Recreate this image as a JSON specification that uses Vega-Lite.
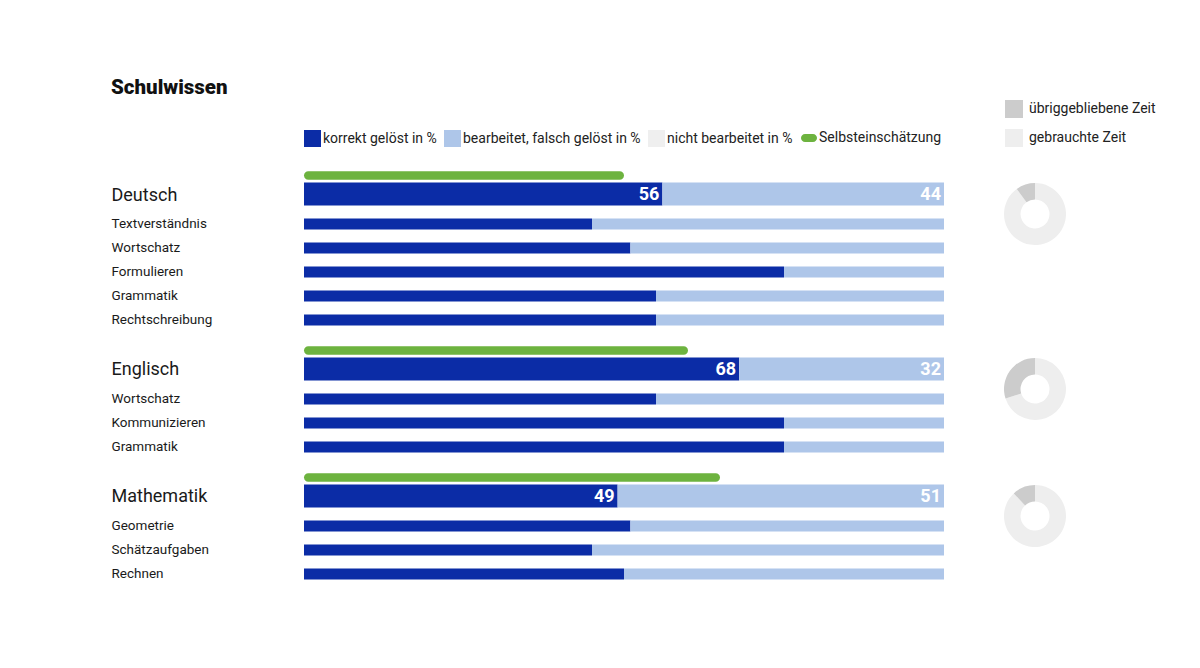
{
  "$schema": "https://vega.github.io/schema/vega-lite/v6.json",
  "background": "white",
  "autosize": {"type": "pad"},
  "padding": {"left": 111, "top": 77, "right": 5, "bottom": 5},
  "title": {"text": "Schulwissen", "anchor": "start", "font": "Roboto", "fontSize": 20.5, "fontWeight": 900, "color": "#111111", "offset": 2},
  "config": {
    "view": {"stroke": null},
    "font": "Roboto",
    "legend": {"padding": 0, "titlePadding": 0}
  },
  "datasets": {
    "balken": [
      {"fach": "Deutsch", "zeile": "Deutsch", "ebene": "main", "kat": "korrekt gelöst in %", "wert": 56},
      {"fach": "Deutsch", "zeile": "Deutsch", "ebene": "main", "kat": "bearbeitet, falsch gelöst in %", "wert": 44},
      {"fach": "Deutsch", "zeile": "Deutsch", "ebene": "selbst", "kat": "Selbsteinschätzung", "wert": 50},
      {"fach": "Deutsch", "zeile": "Textverständnis", "ebene": "sub", "kat": "korrekt gelöst in %", "wert": 45},
      {"fach": "Deutsch", "zeile": "Textverständnis", "ebene": "sub", "kat": "bearbeitet, falsch gelöst in %", "wert": 55},
      {"fach": "Deutsch", "zeile": "Wortschatz", "ebene": "sub", "kat": "korrekt gelöst in %", "wert": 51},
      {"fach": "Deutsch", "zeile": "Wortschatz", "ebene": "sub", "kat": "bearbeitet, falsch gelöst in %", "wert": 49},
      {"fach": "Deutsch", "zeile": "Formulieren", "ebene": "sub", "kat": "korrekt gelöst in %", "wert": 75},
      {"fach": "Deutsch", "zeile": "Formulieren", "ebene": "sub", "kat": "bearbeitet, falsch gelöst in %", "wert": 25},
      {"fach": "Deutsch", "zeile": "Grammatik", "ebene": "sub", "kat": "korrekt gelöst in %", "wert": 55},
      {"fach": "Deutsch", "zeile": "Grammatik", "ebene": "sub", "kat": "bearbeitet, falsch gelöst in %", "wert": 45},
      {"fach": "Deutsch", "zeile": "Rechtschreibung", "ebene": "sub", "kat": "korrekt gelöst in %", "wert": 55},
      {"fach": "Deutsch", "zeile": "Rechtschreibung", "ebene": "sub", "kat": "bearbeitet, falsch gelöst in %", "wert": 45},
      {"fach": "Englisch", "zeile": "Englisch", "ebene": "main", "kat": "korrekt gelöst in %", "wert": 68},
      {"fach": "Englisch", "zeile": "Englisch", "ebene": "main", "kat": "bearbeitet, falsch gelöst in %", "wert": 32},
      {"fach": "Englisch", "zeile": "Englisch", "ebene": "selbst", "kat": "Selbsteinschätzung", "wert": 60},
      {"fach": "Englisch", "zeile": "Wortschatz", "ebene": "sub", "kat": "korrekt gelöst in %", "wert": 55},
      {"fach": "Englisch", "zeile": "Wortschatz", "ebene": "sub", "kat": "bearbeitet, falsch gelöst in %", "wert": 45},
      {"fach": "Englisch", "zeile": "Kommunizieren", "ebene": "sub", "kat": "korrekt gelöst in %", "wert": 75},
      {"fach": "Englisch", "zeile": "Kommunizieren", "ebene": "sub", "kat": "bearbeitet, falsch gelöst in %", "wert": 25},
      {"fach": "Englisch", "zeile": "Grammatik", "ebene": "sub", "kat": "korrekt gelöst in %", "wert": 75},
      {"fach": "Englisch", "zeile": "Grammatik", "ebene": "sub", "kat": "bearbeitet, falsch gelöst in %", "wert": 25},
      {"fach": "Mathematik", "zeile": "Mathematik", "ebene": "main", "kat": "korrekt gelöst in %", "wert": 49},
      {"fach": "Mathematik", "zeile": "Mathematik", "ebene": "main", "kat": "bearbeitet, falsch gelöst in %", "wert": 51},
      {"fach": "Mathematik", "zeile": "Mathematik", "ebene": "selbst", "kat": "Selbsteinschätzung", "wert": 65},
      {"fach": "Mathematik", "zeile": "Geometrie", "ebene": "sub", "kat": "korrekt gelöst in %", "wert": 51},
      {"fach": "Mathematik", "zeile": "Geometrie", "ebene": "sub", "kat": "bearbeitet, falsch gelöst in %", "wert": 49},
      {"fach": "Mathematik", "zeile": "Schätzaufgaben", "ebene": "sub", "kat": "korrekt gelöst in %", "wert": 45},
      {"fach": "Mathematik", "zeile": "Schätzaufgaben", "ebene": "sub", "kat": "bearbeitet, falsch gelöst in %", "wert": 55},
      {"fach": "Mathematik", "zeile": "Rechnen", "ebene": "sub", "kat": "korrekt gelöst in %", "wert": 50},
      {"fach": "Mathematik", "zeile": "Rechnen", "ebene": "sub", "kat": "bearbeitet, falsch gelöst in %", "wert": 50}
    ],
    "zeit": [
      {"fach": "Deutsch", "teil": "gebrauchte Zeit", "wert": 90},
      {"fach": "Deutsch", "teil": "übriggebliebene Zeit", "wert": 10},
      {"fach": "Englisch", "teil": "gebrauchte Zeit", "wert": 70},
      {"fach": "Englisch", "teil": "übriggebliebene Zeit", "wert": 30},
      {"fach": "Mathematik", "teil": "gebrauchte Zeit", "wert": 88},
      {"fach": "Mathematik", "teil": "übriggebliebene Zeit", "wert": 12}
    ]
  },
  "bounds": "flush",
  "columns": 2,
  "spacing": {"row": 31, "column": 60},
  "resolve": {
    "scale": {"color": "independent", "fill": "independent", "x": "independent", "y": "independent", "theta": "independent"},
    "legend": {"color": "independent", "fill": "independent"}
  },
  "concat": [
    {
      "width": 640,
      "height": 144,
      "data": {"name": "balken"},
      "transform": [{"filter": "datum.fach === 'Deutsch'"}],
      "encoding": {
        "y": {
          "field": "zeile", "type": "nominal", "title": null,
          "scale": {"domain": ["Deutsch", "Textverständnis", "Wortschatz", "Formulieren", "Grammatik", "Rechtschreibung"], "paddingInner": 0, "paddingOuter": 0},
          "axis": {
            "domain": false, "ticks": false, "tickSize": 0, "grid": false,
            "labelAlign": "left", "labelBaseline": "middle", "labelPadding": 193, "labelLimit": 0,
            "labelColor": "#1a1a1a", "labelFont": "Roboto",
            "labelFontSize": {"condition": {"test": "datum.value === 'Deutsch'", "value": 18}, "value": 13.5},
            "labelOffset": {"condition": {"test": "datum.value === 'Deutsch'", "value": -4}, "value": 0}
          }
        }
      },
      "layer": [
        {
          "transform": [{"filter": "datum.ebene === 'sub'"}],
          "mark": {"type": "bar", "height": 11},
          "encoding": {
            "x": {"field": "wert", "type": "quantitative", "stack": "zero", "scale": {"domain": [0, 100], "nice": false}, "axis": null},
            "color": {
              "field": "kat", "type": "nominal",
              "scale": {"domain": ["korrekt gelöst in %", "bearbeitet, falsch gelöst in %", "nicht bearbeitet in %"], "range": ["#0b2ca6", "#aec6e9", "#efefef"]},
              "legend": {"orient": "none", "legendX": 0, "legendY": -58, "direction": "horizontal", "title": null, "symbolType": "square", "symbolSize": 289, "symbolStrokeWidth": 0, "labelFontSize": 14, "labelOffset": 2, "columnPadding": 7, "labelColor": "#222222", "labelLimit": 0, "labelFont": "Roboto"}
            },
            "order": {"field": "kat", "sort": "descending"}
          }
        },
        {
          "transform": [{"filter": "datum.ebene === 'main'"}],
          "mark": {"type": "bar", "height": 23, "yOffset": -6},
          "encoding": {
            "x": {"field": "wert", "type": "quantitative", "stack": "zero"},
            "color": {"field": "kat", "type": "nominal"},
            "order": {"field": "kat", "sort": "descending"}
          }
        },
        {
          "transform": [
            {"filter": "datum.ebene === 'main'"},
            {"stack": "wert", "groupby": ["zeile"], "sort": [{"field": "kat", "order": "descending"}], "as": ["x0", "x1"]}
          ],
          "mark": {"type": "text", "align": "right", "baseline": "middle", "dx": -3, "yOffset": -5, "font": "Roboto", "fontSize": 18, "fontWeight": "bold", "color": "white"},
          "encoding": {
            "x": {"field": "x1", "type": "quantitative"},
            "text": {"field": "wert", "type": "quantitative"}
          }
        },
        {
          "transform": [{"filter": "datum.ebene === 'selbst'"}],
          "mark": {"type": "bar", "height": 8.5, "cornerRadius": 4.25, "yOffset": -24.5},
          "encoding": {
            "x": {"field": "wert", "type": "quantitative", "stack": null},
            "fill": {
              "field": "kat", "type": "nominal",
              "scale": {"range": ["#6db33f"]},
              "legend": {"orient": "none", "legendX": 497, "legendY": -58, "title": null, "symbolType": "M-0.5,-0.5L0.5,-0.5A0.5,0.5,0,0,1,0.5,0.5L-0.5,0.5A0.5,0.5,0,0,1,-0.5,-0.5Z", "symbolSize": 256, "symbolStrokeWidth": 0, "labelFontSize": 14, "labelOffset": 2, "labelColor": "#222222", "labelLimit": 0, "labelFont": "Roboto"}
            }
          }
        }
      ]
    },
    {
      "width": 62,
      "height": 52,
      "data": {"name": "zeit"},
      "transform": [{"filter": "datum.fach === 'Deutsch'"}],
      "mark": {"type": "arc", "outerRadius": 31, "innerRadius": 14.5},
      "encoding": {
        "theta": {"field": "wert", "type": "quantitative", "stack": true},
        "order": {"field": "teil", "sort": "ascending"},
        "color": {
          "field": "teil", "type": "nominal",
          "scale": {"domain": ["übriggebliebene Zeit", "gebrauchte Zeit"], "range": ["#cccccc", "#eeeeee"]},
          "legend": {"orient": "none", "legendX": 1, "legendY": -88, "direction": "vertical", "title": null, "symbolType": "square", "symbolSize": 324, "symbolStrokeWidth": 0, "rowPadding": 11, "labelFontSize": 14, "labelOffset": 6, "labelColor": "#222222", "labelLimit": 0, "labelFont": "Roboto"}
        }
      }
    },
    {
      "width": 640,
      "height": 96,
      "data": {"name": "balken"},
      "transform": [{"filter": "datum.fach === 'Englisch'"}],
      "encoding": {
        "y": {
          "field": "zeile", "type": "nominal", "title": null,
          "scale": {"domain": ["Englisch", "Wortschatz", "Kommunizieren", "Grammatik"], "paddingInner": 0, "paddingOuter": 0},
          "axis": {
            "domain": false, "ticks": false, "tickSize": 0, "grid": false,
            "labelAlign": "left", "labelBaseline": "middle", "labelPadding": 193, "labelLimit": 0,
            "labelColor": "#1a1a1a", "labelFont": "Roboto",
            "labelFontSize": {"condition": {"test": "datum.value === 'Englisch'", "value": 18}, "value": 13.5},
            "labelOffset": {"condition": {"test": "datum.value === 'Englisch'", "value": -5}, "value": 0}
          }
        }
      },
      "layer": [
        {
          "transform": [{"filter": "datum.ebene === 'sub'"}],
          "mark": {"type": "bar", "height": 11},
          "encoding": {
            "x": {"field": "wert", "type": "quantitative", "stack": "zero", "scale": {"domain": [0, 100], "nice": false}, "axis": null},
            "color": {
              "field": "kat", "type": "nominal",
              "scale": {"domain": ["korrekt gelöst in %", "bearbeitet, falsch gelöst in %", "nicht bearbeitet in %"], "range": ["#0b2ca6", "#aec6e9", "#efefef"]},
              "legend": null
            },
            "order": {"field": "kat", "sort": "descending"}
          }
        },
        {
          "transform": [{"filter": "datum.ebene === 'main'"}],
          "mark": {"type": "bar", "height": 23, "yOffset": -6},
          "encoding": {
            "x": {"field": "wert", "type": "quantitative", "stack": "zero"},
            "color": {"field": "kat", "type": "nominal"},
            "order": {"field": "kat", "sort": "descending"}
          }
        },
        {
          "transform": [
            {"filter": "datum.ebene === 'main'"},
            {"stack": "wert", "groupby": ["zeile"], "sort": [{"field": "kat", "order": "descending"}], "as": ["x0", "x1"]}
          ],
          "mark": {"type": "text", "align": "right", "baseline": "middle", "dx": -3, "yOffset": -5, "font": "Roboto", "fontSize": 18, "fontWeight": "bold", "color": "white"},
          "encoding": {
            "x": {"field": "x1", "type": "quantitative"},
            "text": {"field": "wert", "type": "quantitative"}
          }
        },
        {
          "transform": [{"filter": "datum.ebene === 'selbst'"}],
          "mark": {"type": "bar", "height": 8.5, "cornerRadius": 4.25, "yOffset": -24.5},
          "encoding": {
            "x": {"field": "wert", "type": "quantitative", "stack": null},
            "fill": {"field": "kat", "type": "nominal", "scale": {"range": ["#6db33f"]}, "legend": null}
          }
        }
      ]
    },
    {
      "width": 62,
      "height": 52,
      "data": {"name": "zeit"},
      "transform": [{"filter": "datum.fach === 'Englisch'"}],
      "mark": {"type": "arc", "outerRadius": 31, "innerRadius": 14.5},
      "encoding": {
        "theta": {"field": "wert", "type": "quantitative", "stack": true},
        "order": {"field": "teil", "sort": "ascending"},
        "color": {
          "field": "teil", "type": "nominal",
          "scale": {"domain": ["übriggebliebene Zeit", "gebrauchte Zeit"], "range": ["#cccccc", "#eeeeee"]},
          "legend": null
        }
      }
    },
    {
      "width": 640,
      "height": 96,
      "data": {"name": "balken"},
      "transform": [{"filter": "datum.fach === 'Mathematik'"}],
      "encoding": {
        "y": {
          "field": "zeile", "type": "nominal", "title": null,
          "scale": {"domain": ["Mathematik", "Geometrie", "Schätzaufgaben", "Rechnen"], "paddingInner": 0, "paddingOuter": 0},
          "axis": {
            "domain": false, "ticks": false, "tickSize": 0, "grid": false,
            "labelAlign": "left", "labelBaseline": "middle", "labelPadding": 193, "labelLimit": 0,
            "labelColor": "#1a1a1a", "labelFont": "Roboto",
            "labelFontSize": {"condition": {"test": "datum.value === 'Mathematik'", "value": 18}, "value": 13.5},
            "labelOffset": {"condition": {"test": "datum.value === 'Mathematik'", "value": -5}, "value": 0}
          }
        }
      },
      "layer": [
        {
          "transform": [{"filter": "datum.ebene === 'sub'"}],
          "mark": {"type": "bar", "height": 11},
          "encoding": {
            "x": {"field": "wert", "type": "quantitative", "stack": "zero", "scale": {"domain": [0, 100], "nice": false}, "axis": null},
            "color": {
              "field": "kat", "type": "nominal",
              "scale": {"domain": ["korrekt gelöst in %", "bearbeitet, falsch gelöst in %", "nicht bearbeitet in %"], "range": ["#0b2ca6", "#aec6e9", "#efefef"]},
              "legend": null
            },
            "order": {"field": "kat", "sort": "descending"}
          }
        },
        {
          "transform": [{"filter": "datum.ebene === 'main'"}],
          "mark": {"type": "bar", "height": 23, "yOffset": -6},
          "encoding": {
            "x": {"field": "wert", "type": "quantitative", "stack": "zero"},
            "color": {"field": "kat", "type": "nominal"},
            "order": {"field": "kat", "sort": "descending"}
          }
        },
        {
          "transform": [
            {"filter": "datum.ebene === 'main'"},
            {"stack": "wert", "groupby": ["zeile"], "sort": [{"field": "kat", "order": "descending"}], "as": ["x0", "x1"]}
          ],
          "mark": {"type": "text", "align": "right", "baseline": "middle", "dx": -3, "yOffset": -5, "font": "Roboto", "fontSize": 18, "fontWeight": "bold", "color": "white"},
          "encoding": {
            "x": {"field": "x1", "type": "quantitative"},
            "text": {"field": "wert", "type": "quantitative"}
          }
        },
        {
          "transform": [{"filter": "datum.ebene === 'selbst'"}],
          "mark": {"type": "bar", "height": 8.5, "cornerRadius": 4.25, "yOffset": -24.5},
          "encoding": {
            "x": {"field": "wert", "type": "quantitative", "stack": null},
            "fill": {"field": "kat", "type": "nominal", "scale": {"range": ["#6db33f"]}, "legend": null}
          }
        }
      ]
    },
    {
      "width": 62,
      "height": 52,
      "data": {"name": "zeit"},
      "transform": [{"filter": "datum.fach === 'Mathematik'"}],
      "mark": {"type": "arc", "outerRadius": 31, "innerRadius": 14.5},
      "encoding": {
        "theta": {"field": "wert", "type": "quantitative", "stack": true},
        "order": {"field": "teil", "sort": "ascending"},
        "color": {
          "field": "teil", "type": "nominal",
          "scale": {"domain": ["übriggebliebene Zeit", "gebrauchte Zeit"], "range": ["#cccccc", "#eeeeee"]},
          "legend": null
        }
      }
    }
  ]
}
